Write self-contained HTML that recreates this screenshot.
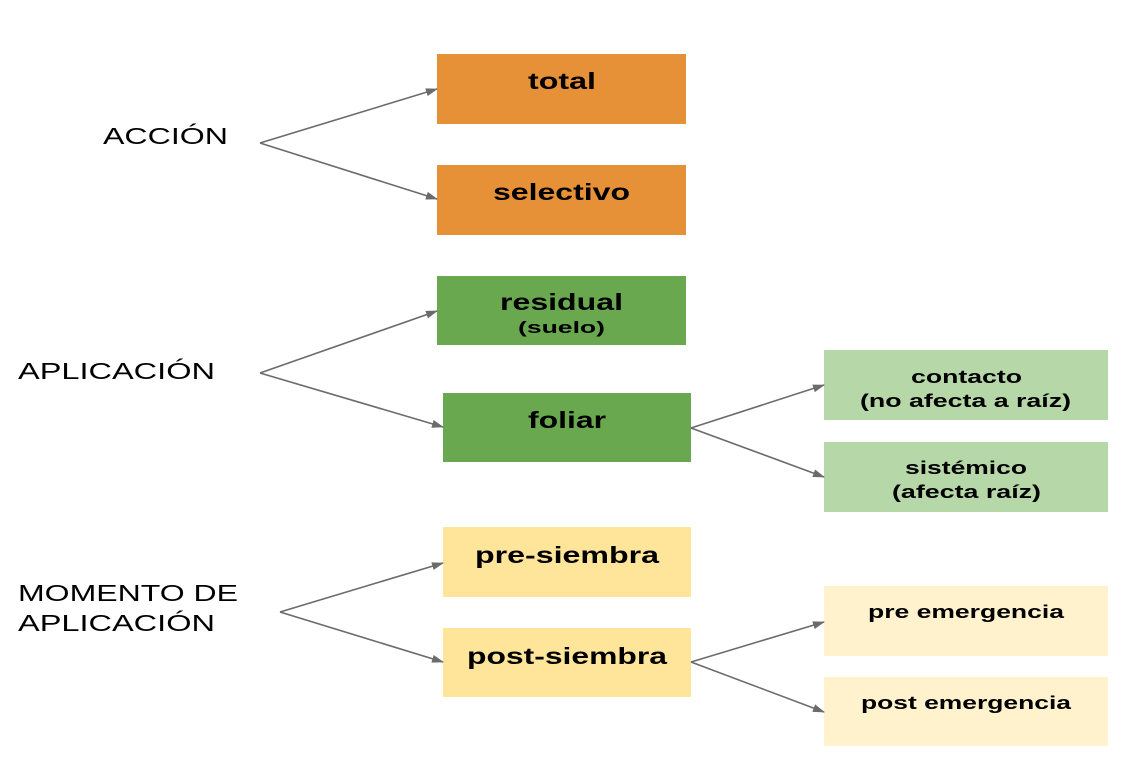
<!DOCTYPE html>
<html><head><meta charset="utf-8"><style>
html,body{margin:0;padding:0;background:#fff;width:1145px;height:780px;overflow:hidden}
svg{display:block;font-family:"Liberation Sans",sans-serif}
</style></head><body>
<svg width="1145" height="780" viewBox="0 0 1145 780" xmlns="http://www.w3.org/2000/svg">
<defs><marker id="a" markerWidth="12" markerHeight="8" refX="11" refY="4" orient="auto" markerUnits="userSpaceOnUse"><path d="M0,0 L12,4 L0,8 z" fill="#6b6b6b"/></marker></defs>
<g fill="#E69138"><rect x="437" y="54" width="249" height="70"/><rect x="437" y="165" width="249" height="70"/></g>
<g fill="#6AA84F"><rect x="437" y="276" width="249" height="69"/><rect x="443" y="393" width="248" height="69"/></g>
<g fill="#B6D7A8"><rect x="824" y="350" width="284" height="70"/><rect x="824" y="442" width="284" height="70"/></g>
<g fill="#FFE599"><rect x="443" y="527" width="248" height="70"/><rect x="443" y="628" width="248" height="69"/></g>
<g fill="#FFF2CC"><rect x="824" y="586" width="284" height="70"/><rect x="824" y="677" width="284" height="69"/></g>
<g stroke="#6b6b6b" stroke-width="1.6" fill="none" marker-end="url(#a)">
<path d="M260,143 L437,89"/><path d="M260,143 L437,199"/>
<path d="M260,373 L437,311"/><path d="M260,373 L443,427"/>
<path d="M691,428 L824,385"/><path d="M691,428 L824,477"/>
<path d="M280,612 L443,563"/><path d="M280,612 L443,662"/>
<path d="M691,662 L824,622"/><path d="M691,662 L824,712"/>
</g>
<g font-weight="bold" fill="#000" lengthAdjust="spacingAndGlyphs">
<text x="528" y="89" font-size="23" textLength="68" lengthAdjust="spacingAndGlyphs">total</text>
<text x="493" y="200" font-size="23" textLength="137" lengthAdjust="spacingAndGlyphs">selectivo</text>
<text x="500" y="310" font-size="23" textLength="123" lengthAdjust="spacingAndGlyphs">residual</text>
<text x="518" y="333" font-size="17" textLength="87" lengthAdjust="spacingAndGlyphs">(suelo)</text>
<text x="528" y="428" font-size="23" textLength="78" lengthAdjust="spacingAndGlyphs">foliar</text>
<text x="911" y="383" font-size="18" textLength="111" lengthAdjust="spacingAndGlyphs">contacto</text>
<text x="860" y="407" font-size="18" textLength="211" lengthAdjust="spacingAndGlyphs">(no afecta a raíz)</text>
<text x="905" y="474" font-size="18" textLength="122" lengthAdjust="spacingAndGlyphs">sistémico</text>
<text x="892" y="498" font-size="18" textLength="149" lengthAdjust="spacingAndGlyphs">(afecta raíz)</text>
<text x="475" y="563" font-size="23" textLength="184" lengthAdjust="spacingAndGlyphs">pre-siembra</text>
<text x="467" y="664" font-size="23" textLength="200" lengthAdjust="spacingAndGlyphs">post-siembra</text>
<text x="868" y="618" font-size="18" textLength="196" lengthAdjust="spacingAndGlyphs">pre emergencia</text>
<text x="861" y="709" font-size="18" textLength="210" lengthAdjust="spacingAndGlyphs">post emergencia</text>
</g>
<g font-size="23" fill="#000">
<text x="103" y="144" textLength="125" lengthAdjust="spacingAndGlyphs">ACCIÓN</text>
<text x="18" y="379" textLength="197" lengthAdjust="spacingAndGlyphs">APLICACIÓN</text>
<text x="18" y="601" textLength="220" lengthAdjust="spacingAndGlyphs">MOMENTO DE</text>
<text x="18" y="631" textLength="197" lengthAdjust="spacingAndGlyphs">APLICACIÓN</text>
</g>
</svg>
</body></html>
